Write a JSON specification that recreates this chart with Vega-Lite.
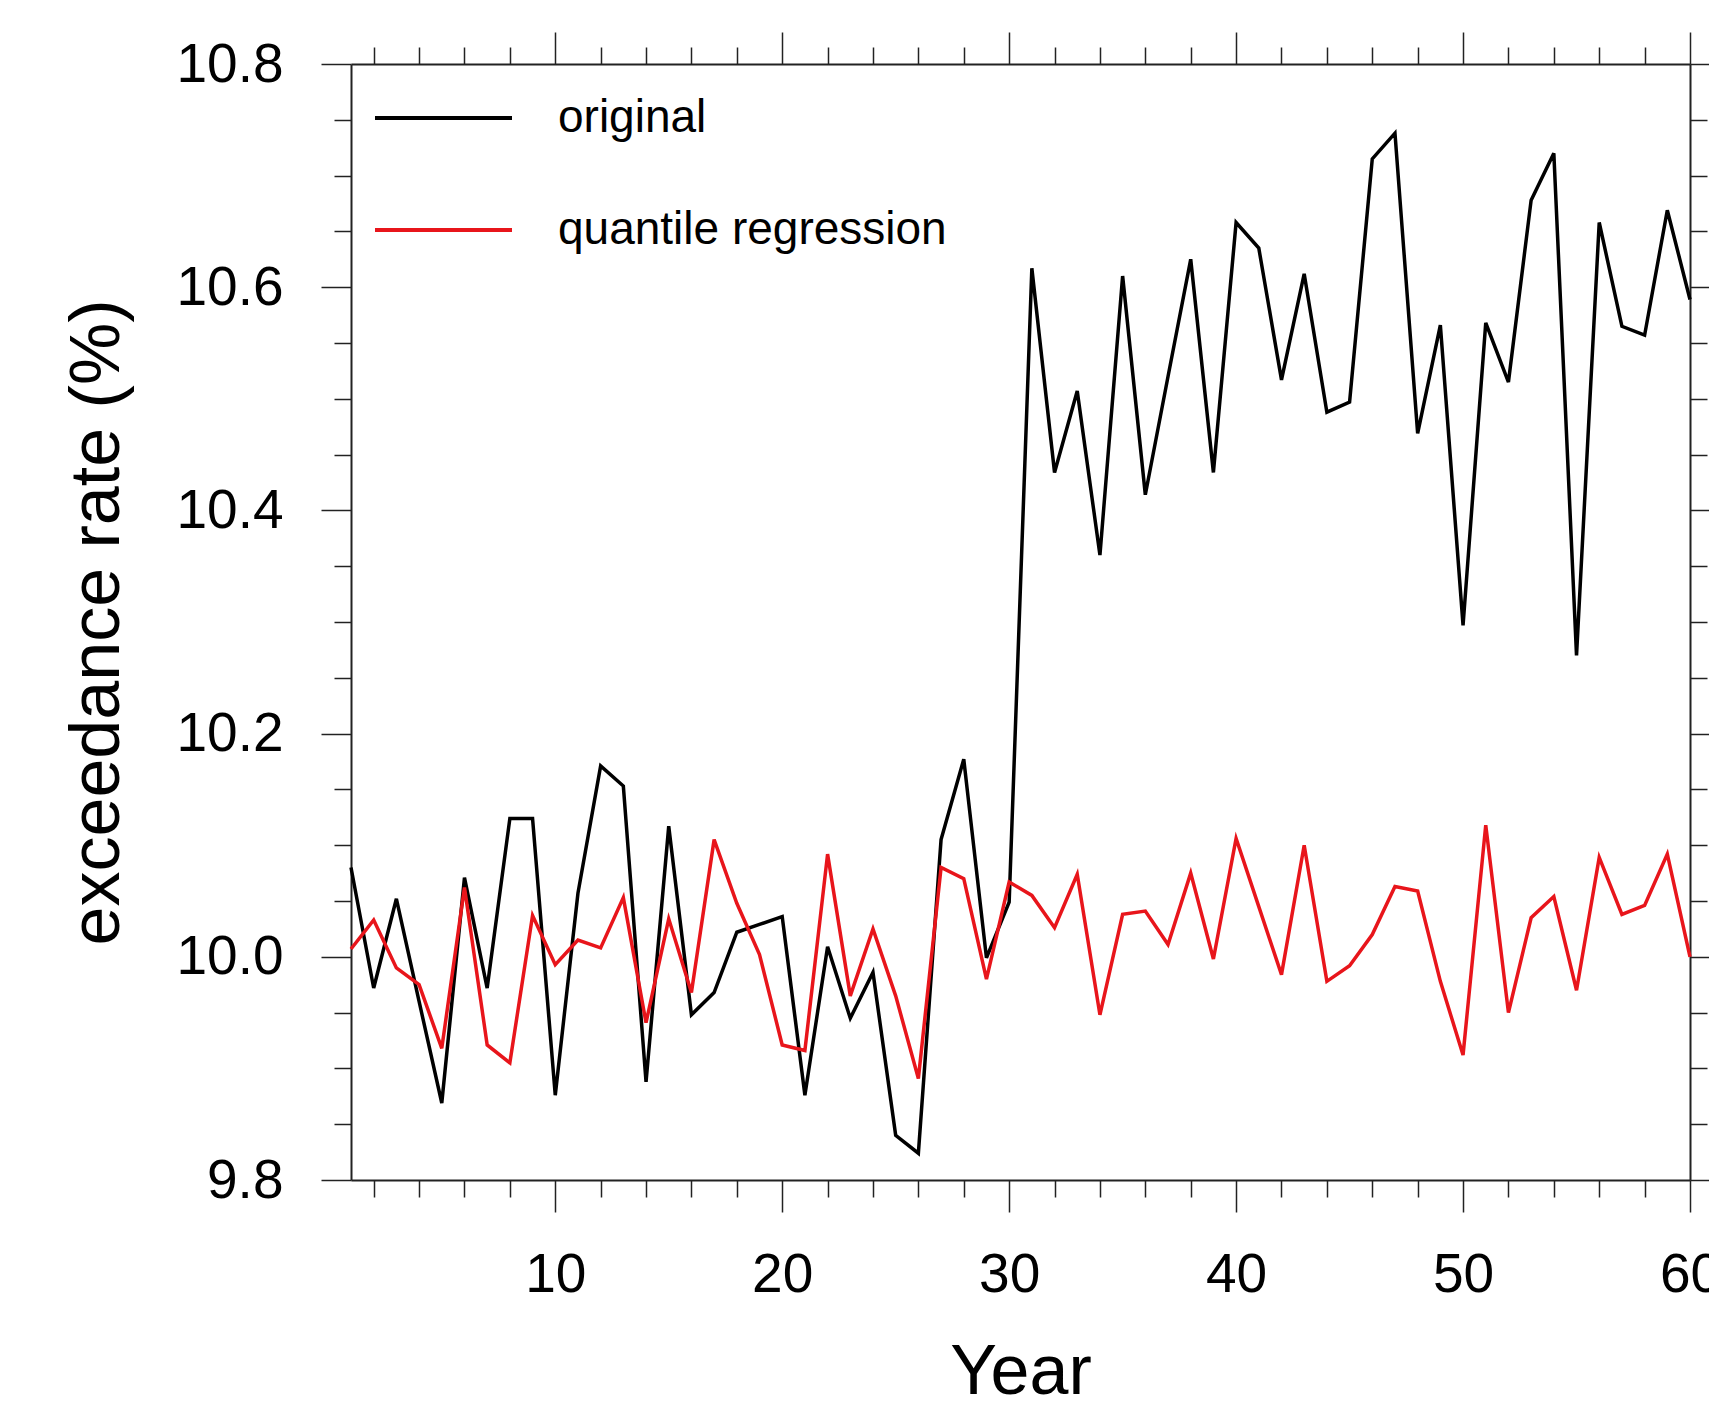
{
  "$schema": "https://vega.github.io/schema/vega-lite/v6.json",
  "width": 1339,
  "height": 1116,
  "autosize": {"type": "none"},
  "padding": {"left": 351, "top": 64, "right": 19, "bottom": 227},
  "background": "white",
  "config": {
    "view": {"stroke": null},
    "font": "Liberation Sans",
    "axis": {
      "grid": false,
      "labelFont": "Liberation Sans",
      "titleFont": "Liberation Sans",
      "labelColor": "#000000",
      "titleColor": "#000000",
      "titleFontWeight": "normal",
      "tickColor": "#222222",
      "domainColor": "#222222",
      "tickWidth": 1.5,
      "domainWidth": 2,
      "labelFlush": false,
      "labelOverlap": false
    }
  },
  "data": {
    "values": [
      {"year": 1, "series": "original", "value": 10.080},
      {"year": 2, "series": "original", "value": 9.972},
      {"year": 3, "series": "original", "value": 10.052},
      {"year": 4, "series": "original", "value": 9.960},
      {"year": 5, "series": "original", "value": 9.869},
      {"year": 6, "series": "original", "value": 10.071},
      {"year": 7, "series": "original", "value": 9.972},
      {"year": 8, "series": "original", "value": 10.124},
      {"year": 9, "series": "original", "value": 10.124},
      {"year": 10, "series": "original", "value": 9.876},
      {"year": 11, "series": "original", "value": 10.057},
      {"year": 12, "series": "original", "value": 10.171},
      {"year": 13, "series": "original", "value": 10.153},
      {"year": 14, "series": "original", "value": 9.888},
      {"year": 15, "series": "original", "value": 10.117},
      {"year": 16, "series": "original", "value": 9.948},
      {"year": 17, "series": "original", "value": 9.968},
      {"year": 18, "series": "original", "value": 10.022},
      {"year": 19, "series": "original", "value": 10.029},
      {"year": 20, "series": "original", "value": 10.036},
      {"year": 21, "series": "original", "value": 9.876},
      {"year": 22, "series": "original", "value": 10.009},
      {"year": 23, "series": "original", "value": 9.945},
      {"year": 24, "series": "original", "value": 9.986},
      {"year": 25, "series": "original", "value": 9.840},
      {"year": 26, "series": "original", "value": 9.824},
      {"year": 27, "series": "original", "value": 10.105},
      {"year": 28, "series": "original", "value": 10.177},
      {"year": 29, "series": "original", "value": 9.999},
      {"year": 30, "series": "original", "value": 10.049},
      {"year": 31, "series": "original", "value": 10.617},
      {"year": 32, "series": "original", "value": 10.434},
      {"year": 33, "series": "original", "value": 10.507},
      {"year": 34, "series": "original", "value": 10.360},
      {"year": 35, "series": "original", "value": 10.610},
      {"year": 36, "series": "original", "value": 10.414},
      {"year": 37, "series": "original", "value": 10.520},
      {"year": 38, "series": "original", "value": 10.625},
      {"year": 39, "series": "original", "value": 10.434},
      {"year": 40, "series": "original", "value": 10.658},
      {"year": 41, "series": "original", "value": 10.635},
      {"year": 42, "series": "original", "value": 10.517},
      {"year": 43, "series": "original", "value": 10.612},
      {"year": 44, "series": "original", "value": 10.488},
      {"year": 45, "series": "original", "value": 10.497},
      {"year": 46, "series": "original", "value": 10.715},
      {"year": 47, "series": "original", "value": 10.738},
      {"year": 48, "series": "original", "value": 10.469},
      {"year": 49, "series": "original", "value": 10.566},
      {"year": 50, "series": "original", "value": 10.297},
      {"year": 51, "series": "original", "value": 10.568},
      {"year": 52, "series": "original", "value": 10.515},
      {"year": 53, "series": "original", "value": 10.678},
      {"year": 54, "series": "original", "value": 10.720},
      {"year": 55, "series": "original", "value": 10.270},
      {"year": 56, "series": "original", "value": 10.658},
      {"year": 57, "series": "original", "value": 10.565},
      {"year": 58, "series": "original", "value": 10.557},
      {"year": 59, "series": "original", "value": 10.669},
      {"year": 60, "series": "original", "value": 10.589},
      {"year": 1, "series": "quantile regression", "value": 10.007},
      {"year": 2, "series": "quantile regression", "value": 10.033},
      {"year": 3, "series": "quantile regression", "value": 9.990},
      {"year": 4, "series": "quantile regression", "value": 9.975},
      {"year": 5, "series": "quantile regression", "value": 9.918},
      {"year": 6, "series": "quantile regression", "value": 10.062},
      {"year": 7, "series": "quantile regression", "value": 9.921},
      {"year": 8, "series": "quantile regression", "value": 9.905},
      {"year": 9, "series": "quantile regression", "value": 10.037},
      {"year": 10, "series": "quantile regression", "value": 9.993},
      {"year": 11, "series": "quantile regression", "value": 10.015},
      {"year": 12, "series": "quantile regression", "value": 10.008},
      {"year": 13, "series": "quantile regression", "value": 10.053},
      {"year": 14, "series": "quantile regression", "value": 9.941},
      {"year": 15, "series": "quantile regression", "value": 10.034},
      {"year": 16, "series": "quantile regression", "value": 9.968},
      {"year": 17, "series": "quantile regression", "value": 10.105},
      {"year": 18, "series": "quantile regression", "value": 10.048},
      {"year": 19, "series": "quantile regression", "value": 10.002},
      {"year": 20, "series": "quantile regression", "value": 9.921},
      {"year": 21, "series": "quantile regression", "value": 9.916},
      {"year": 22, "series": "quantile regression", "value": 10.092},
      {"year": 23, "series": "quantile regression", "value": 9.965},
      {"year": 24, "series": "quantile regression", "value": 10.025},
      {"year": 25, "series": "quantile regression", "value": 9.965},
      {"year": 26, "series": "quantile regression", "value": 9.891},
      {"year": 27, "series": "quantile regression", "value": 10.080},
      {"year": 28, "series": "quantile regression", "value": 10.070},
      {"year": 29, "series": "quantile regression", "value": 9.980},
      {"year": 30, "series": "quantile regression", "value": 10.067},
      {"year": 31, "series": "quantile regression", "value": 10.055},
      {"year": 32, "series": "quantile regression", "value": 10.026},
      {"year": 33, "series": "quantile regression", "value": 10.074},
      {"year": 34, "series": "quantile regression", "value": 9.948},
      {"year": 35, "series": "quantile regression", "value": 10.038},
      {"year": 36, "series": "quantile regression", "value": 10.041},
      {"year": 37, "series": "quantile regression", "value": 10.011},
      {"year": 38, "series": "quantile regression", "value": 10.075},
      {"year": 39, "series": "quantile regression", "value": 9.998},
      {"year": 40, "series": "quantile regression", "value": 10.106},
      {"year": 41, "series": "quantile regression", "value": 10.045},
      {"year": 42, "series": "quantile regression", "value": 9.984},
      {"year": 43, "series": "quantile regression", "value": 10.100},
      {"year": 44, "series": "quantile regression", "value": 9.978},
      {"year": 45, "series": "quantile regression", "value": 9.992},
      {"year": 46, "series": "quantile regression", "value": 10.020},
      {"year": 47, "series": "quantile regression", "value": 10.063},
      {"year": 48, "series": "quantile regression", "value": 10.059},
      {"year": 49, "series": "quantile regression", "value": 9.978},
      {"year": 50, "series": "quantile regression", "value": 9.912},
      {"year": 51, "series": "quantile regression", "value": 10.118},
      {"year": 52, "series": "quantile regression", "value": 9.950},
      {"year": 53, "series": "quantile regression", "value": 10.035},
      {"year": 54, "series": "quantile regression", "value": 10.054},
      {"year": 55, "series": "quantile regression", "value": 9.970},
      {"year": 56, "series": "quantile regression", "value": 10.089},
      {"year": 57, "series": "quantile regression", "value": 10.038},
      {"year": 58, "series": "quantile regression", "value": 10.046},
      {"year": 59, "series": "quantile regression", "value": 10.092},
      {"year": 60, "series": "quantile regression", "value": 10.000}
    ]
  },
  "layer": [
    {
      "transform": [{"filter": {"field": "series", "equal": "original"}}],
      "mark": {"type": "line", "strokeWidth": 3.5},
      "encoding": {
        "x": {
          "field": "year", "type": "quantitative",
          "scale": {"domain": [1, 60], "nice": false, "zero": false},
          "axis": {
            "orient": "bottom", "values": [10, 20, 30, 40, 50, 60], "format": "d",
            "tickSize": 32, "domain": true, "labels": true,
            "labelFontSize": 55, "labelPadding": 36,
            "title": "Year", "titleFontSize": 70, "titleY": 213, "titleBaseline": "alphabetic"
          }
        },
        "y": {
          "field": "value", "type": "quantitative",
          "scale": {"domain": [9.8, 10.8], "nice": false, "zero": false},
          "axis": {
            "orient": "left", "values": [9.8, 10.0, 10.2, 10.4, 10.6, 10.8], "format": ".1f",
            "tickSize": 30, "domain": true, "labels": true,
            "labelFontSize": 55, "labelPadding": 38,
            "title": "exceedance rate (%)", "titleFontSize": 70, "titleX": -233, "titleBaseline": "alphabetic", "titleAngle": 270
          }
        },
        "color": {
          "field": "series", "type": "nominal",
          "scale": {"domain": ["original", "quantile regression"], "range": ["#000000", "#e8151b"]},
          "legend": {
            "orient": "none", "legendX": 22, "legendY": -2, "title": null,
            "symbolType": "stroke", "symbolSize": 18769, "symbolStrokeWidth": 4,
            "clipHeight": 112, "rowPadding": 0, "labelOffset": 44,
            "labelFontSize": 46, "labelFont": "Liberation Sans", "labelColor": "#000000",
            "labelLimit": 1000, "padding": 0
          }
        }
      }
    },
    {
      "transform": [{"filter": {"field": "series", "equal": "quantile regression"}}],
      "mark": {"type": "line", "strokeWidth": 3.5},
      "encoding": {
        "x": {
          "field": "year", "type": "quantitative",
          "axis": {
            "orient": "bottom", "values": [2, 4, 6, 8, 12, 14, 16, 18, 22, 24, 26, 28, 32, 34, 36, 38, 42, 44, 46, 48, 52, 54, 56, 58],
            "tickSize": 17, "domain": false, "labels": false, "title": null
          }
        },
        "y": {
          "field": "value", "type": "quantitative",
          "axis": {
            "orient": "left", "values": [9.85, 9.9, 9.95, 10.05, 10.1, 10.15, 10.25, 10.3, 10.35, 10.45, 10.5, 10.55, 10.65, 10.7, 10.75],
            "tickSize": 17, "domain": false, "labels": false, "title": null
          }
        },
        "color": {"field": "series", "type": "nominal"}
      }
    },
    {
      "transform": [{"filter": {"field": "series", "equal": "original"}}],
      "mark": {"type": "line", "strokeOpacity": 0},
      "encoding": {
        "x": {
          "field": "year", "type": "quantitative",
          "axis": {
            "orient": "top", "values": [10, 20, 30, 40, 50, 60],
            "tickSize": 32, "domain": true, "labels": false, "title": null
          }
        },
        "y": {
          "field": "value", "type": "quantitative",
          "axis": {
            "orient": "right", "values": [9.8, 10.0, 10.2, 10.4, 10.6, 10.8],
            "tickSize": 30, "domain": true, "labels": false, "title": null
          }
        }
      }
    },
    {
      "transform": [{"filter": {"field": "series", "equal": "original"}}],
      "mark": {"type": "line", "strokeOpacity": 0},
      "encoding": {
        "x": {
          "field": "year", "type": "quantitative",
          "axis": {
            "orient": "top", "values": [2, 4, 6, 8, 12, 14, 16, 18, 22, 24, 26, 28, 32, 34, 36, 38, 42, 44, 46, 48, 52, 54, 56, 58],
            "tickSize": 17, "domain": false, "labels": false, "title": null
          }
        },
        "y": {
          "field": "value", "type": "quantitative",
          "axis": {
            "orient": "right", "values": [9.85, 9.9, 9.95, 10.05, 10.1, 10.15, 10.25, 10.3, 10.35, 10.45, 10.5, 10.55, 10.65, 10.7, 10.75],
            "tickSize": 17, "domain": false, "labels": false, "title": null
          }
        }
      }
    }
  ],
  "resolve": {"axis": {"x": "independent", "y": "independent"}}
}
